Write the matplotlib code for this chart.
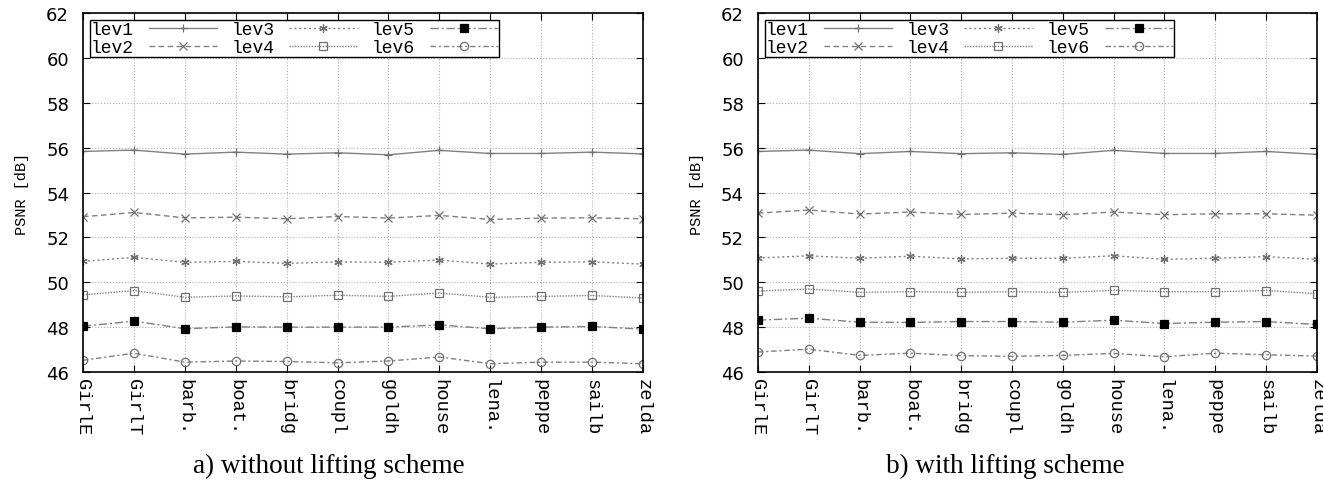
import numpy as np
import matplotlib.pyplot as plt

obrazy = ["GirlE", "GirlT", "barb.", "boat.", "bridg", "coupl",
          "goldh", "house", "lena.", "peppe", "sailb", "zelda"]
poziomy = ["lev1", "lev2", "lev3", "lev4", "lev5", "lev6"]

# a) bez schematu liftingu
bez_lev1 = [55.83, 55.89, 55.71, 55.80, 55.71, 55.77, 55.68, 55.88, 55.74, 55.74, 55.80, 55.72]
bez_lev2 = [52.92, 53.11, 52.87, 52.90, 52.83, 52.93, 52.86, 52.98, 52.80, 52.86, 52.87, 52.83]
bez_lev3 = [50.93, 51.11, 50.89, 50.93, 50.84, 50.91, 50.89, 50.99, 50.81, 50.89, 50.91, 50.81]
bez_lev4 = [49.44, 49.63, 49.33, 49.39, 49.35, 49.42, 49.37, 49.52, 49.33, 49.37, 49.41, 49.30]
bez_lev5 = [48.04, 48.27, 47.93, 48.01, 48.00, 48.00, 48.00, 48.10, 47.93, 48.00, 48.03, 47.91]
bez_lev6 = [46.52, 46.84, 46.44, 46.49, 46.47, 46.41, 46.49, 46.67, 46.37, 46.44, 46.44, 46.37]

# b) ze schematem liftingu
z_lev1 = [55.83, 55.89, 55.73, 55.83, 55.73, 55.77, 55.70, 55.88, 55.74, 55.74, 55.83, 55.70]
z_lev2 = [53.08, 53.22, 53.04, 53.13, 53.02, 53.08, 53.01, 53.13, 53.01, 53.05, 53.05, 52.99]
z_lev3 = [51.08, 51.18, 51.07, 51.16, 51.04, 51.07, 51.07, 51.18, 51.02, 51.07, 51.14, 51.02]
z_lev4 = [49.61, 49.70, 49.55, 49.58, 49.55, 49.58, 49.55, 49.64, 49.58, 49.58, 49.63, 49.49]
z_lev5 = [48.31, 48.40, 48.22, 48.21, 48.25, 48.25, 48.22, 48.31, 48.16, 48.22, 48.25, 48.12]
z_lev6 = [46.89, 47.02, 46.74, 46.84, 46.73, 46.70, 46.74, 46.83, 46.68, 46.84, 46.77, 46.71]

style = [
    dict(ls="-", marker="+", mfc="none"),
    dict(ls=(0, (4, 2.5)), marker="x", mfc="none"),
    dict(ls=(0, (1.5, 2)), marker=(6, 2, 0), mfc="none"),
    dict(ls=(0, (1, 1)), marker="s", mfc="none"),
    dict(ls=(0, (6, 2, 1.5, 2)), marker="s", mfc="black", mec="black"),
    dict(ls=(0, (4, 2, 1.5, 2)), marker="o", mfc="none"),
]

mono = "Liberation Mono"
x = np.arange(len(obrazy))

fig = plt.figure(figsize=(13.23, 4.81), dpi=100)
osie = [fig.add_axes([0.0627, 0.2245, 0.4233, 0.7464]),
        fig.add_axes([0.5729, 0.2245, 0.4225, 0.7464])]
dane = [[bez_lev1, bez_lev2, bez_lev3, bez_lev4, bez_lev5, bez_lev6],
        [z_lev1, z_lev2, z_lev3, z_lev4, z_lev5, z_lev6]]
podpisy = ["a) without lifting scheme", "b) with lifting scheme"]
podpis_x = [329 / 1323, 1005 / 1323]

for ax, serie, podpis, px in zip(osie, dane, podpisy, podpis_x):
    for nazwa, y, st in zip(poziomy, serie, style):
        kw = dict(color="#808080", lw=1.0, ms=6, mec="#707070", mew=0.9)
        kw.update(st)
        ax.plot(x, y, label=nazwa, **kw)
    ax.set_xlim(0, len(obrazy) - 1)
    ax.set_ylim(46, 62)
    ax.set_yticks(np.arange(46, 63, 2))
    ax.set_xticks(x)
    ax.set_xticklabels(obrazy, rotation=-90, family=mono, fontsize=13.5)
    ax.tick_params(direction="in", top=True, right=True, length=5)
    ax.tick_params(axis="y", labelsize=13, pad=10)
    ax.tick_params(axis="x", pad=4)
    ax.grid(True, ls=":", color="#b0b0b0", lw=0.8)
    for s in ax.spines.values():
        s.set_linewidth(1.2)
    ax.set_ylabel("PSNR [dB]", family=mono, fontsize=11, labelpad=12)
    ax.legend(loc="upper left", ncol=3, markerfirst=False, prop={"family": mono, "size": 13},
              frameon=True, fancybox=False, edgecolor="black", framealpha=1,
              borderpad=0.05, handlelength=3.8, handletextpad=0.8, columnspacing=0.8,
              labelspacing=0.05, borderaxespad=0.4)
    fig.text(px, 0.031, podpis, ha="center", va="center",
             family="Liberation Serif", fontsize=19.5)

fig.savefig("out.png", dpi=100)
